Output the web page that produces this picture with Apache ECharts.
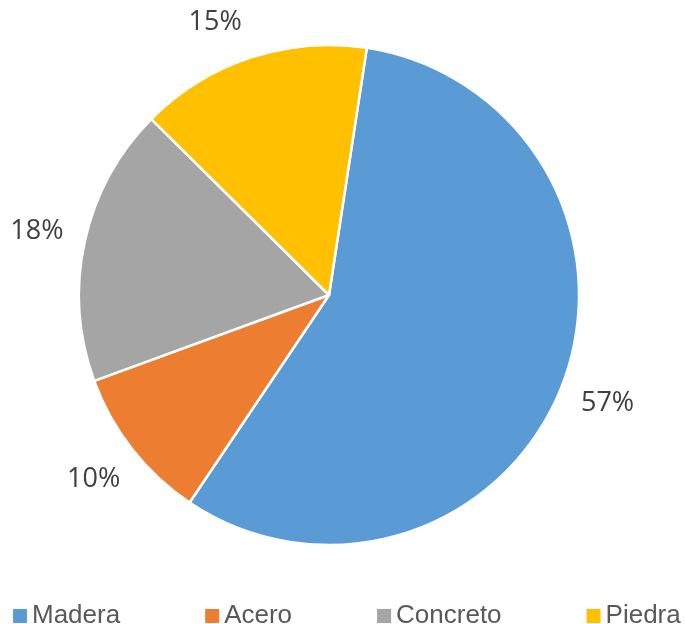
<!DOCTYPE html>
<html>
<head>
<meta charset="utf-8">
<script src="https://cdn.jsdelivr.net/npm/echarts@6/dist/echarts.min.js"></script>
<style>
  html, body { margin: 0; padding: 0; background: #fff; }
  #chart { width: 685px; height: 624px; }
</style>
</head>
<body>
<div id="chart"></div>
<script>
const categories = ['Madera', 'Acero', 'Concreto', 'Piedra']
const shares = [57, 10, 18, 15]
const colors = ['#5B9BD5', '#ED7D31', '#A5A5A5', '#FFC000']

const pieData = categories.map((name, i) => ({
  name,
  value: shares[i],
  itemStyle: { color: colors[i] }
}))

const center = [329, 295]
const startAngle = 81.3

const chart = echarts.init(document.getElementById('chart'), null, { renderer: 'canvas' })

chart.setOption({
  animation: false,
  backgroundColor: '#ffffff',
  legend: {
    data: categories,
    left: 13,
    top: 603,
    width: 672,
    padding: 0,
    orient: 'horizontal',
    itemWidth: 14,
    itemHeight: 14,
    itemGap: 85,
    icon: 'rect',
    selectedMode: false,
    itemStyle: { borderWidth: 0 },
    textStyle: { color: '#595959', fontSize: 26, fontFamily: 'Liberation Sans, Arial, sans-serif' }
  },
  series: [
    {
      name: 'slices',
      type: 'pie',
      center,
      radius: [0, 250],
      startAngle,
      clockwise: true,
      avoidLabelOverlap: false,
      silent: true,
      data: pieData,
      itemStyle: { borderColor: '#ffffff', borderWidth: 2.5 },
      label: { show: false },
      labelLine: { show: false },
      emphasis: { disabled: true }
    },
    {
      // transparent ring so the percentage labels sit centred just outside the pie
      name: 'labels',
      type: 'pie',
      center,
      radius: [250, 342],
      startAngle,
      clockwise: true,
      avoidLabelOverlap: false,
      silent: true,
      data: categories.map((name, i) => ({
        name,
        value: shares[i],
        // keep the top label inside the chart area, as the original does
        label: name === 'Piedra' ? { offset: [-20, 11] } : undefined
      })),
      itemStyle: { color: 'rgba(0,0,0,0)', borderWidth: 0 },
      label: {
        show: true,
        position: 'inside',
        formatter: '{c}%',
        color: '#404040',
        fontSize: 27,
        fontFamily: 'Open Sans, Noto Sans, sans-serif'
      },
      labelLine: { show: false },
      emphasis: { disabled: true }
    }
  ]
})
</script>
</body>
</html>
